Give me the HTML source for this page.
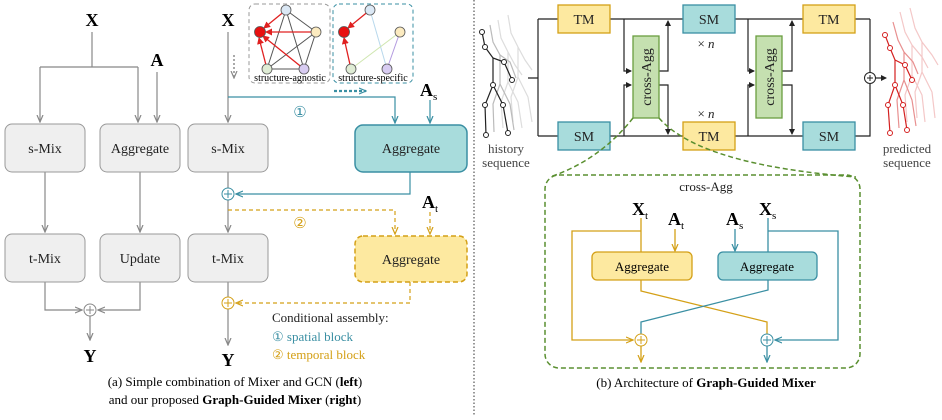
<!DOCTYPE html>
<html><head><meta charset="utf-8"><style>
body{margin:0;background:#fff}
text{font-family:"Liberation Serif",serif}
</style></head><body>
<svg width="942" height="415" viewBox="0 0 942 415" xmlns="http://www.w3.org/2000/svg">
<defs>
<marker id="ag" markerWidth="8" markerHeight="8" refX="7" refY="4" orient="auto" markerUnits="userSpaceOnUse"><path d="M0,1 L7,4 L0,7" fill="none" stroke="#888" stroke-width="1.2"/></marker>
<marker id="ab" markerWidth="8" markerHeight="8" refX="7" refY="4" orient="auto" markerUnits="userSpaceOnUse"><path d="M0,1 L7,4 L0,7" fill="none" stroke="#3a8fa3" stroke-width="1.2"/></marker>
<marker id="ao" markerWidth="8" markerHeight="8" refX="7" refY="4" orient="auto" markerUnits="userSpaceOnUse"><path d="M0,1 L7,4 L0,7" fill="none" stroke="#d4a017" stroke-width="1.2"/></marker>
<marker id="ak" markerWidth="6" markerHeight="6" refX="5" refY="3" orient="auto" markerUnits="userSpaceOnUse"><path d="M0,0 L6,3 L0,6z" fill="#222"/></marker>
<marker id="ar" markerWidth="7" markerHeight="7" refX="6" refY="3.5" orient="auto" markerUnits="userSpaceOnUse"><path d="M0,0 L7,3.5 L0,7z" fill="#e02020"/></marker>
</defs>

<!-- LEFT -->
<g stroke="#888" stroke-width="1.2" fill="none">
<path d="M92,32 V67 M40,67 H138 M40,67 V122" marker-end="url(#ag)"/>
<path d="M138,67 V122" marker-end="url(#ag)"/>
<path d="M157,72 V122" marker-end="url(#ag)"/>
<path d="M45,172 V232" marker-end="url(#ag)"/>
<path d="M140,172 V232" marker-end="url(#ag)"/>
<path d="M45,282 V310 H82" marker-end="url(#ag)"/>
<path d="M140,282 V310 H98" marker-end="url(#ag)"/>
<path d="M90,316 V340" marker-end="url(#ag)"/>
</g>
<g fill="#efefef" stroke="#999" stroke-width="1">
<rect x="5" y="124" width="80" height="48" rx="7"/>
<rect x="100" y="124" width="80" height="48" rx="7"/>
<rect x="5" y="234" width="80" height="48" rx="7"/>
<rect x="100" y="234" width="80" height="48" rx="7"/>
</g>
<g font-size="14" text-anchor="middle" fill="#222">
<text x="45" y="153">s-Mix</text><text x="140" y="153">Aggregate</text>
<text x="45" y="263">t-Mix</text><text x="140" y="263">Update</text>
</g>
<circle cx="90" cy="310" r="6" fill="#fff" stroke="#888"/><path d="M86,310 H94 M90,306 V314" stroke="#888"/>
<text x="92" y="26" font-size="18" font-weight="bold" text-anchor="middle">X</text>
<text x="157" y="66" font-size="18" font-weight="bold" text-anchor="middle">A</text>
<text x="90" y="362" font-size="18" font-weight="bold" text-anchor="middle">Y</text>

<!-- MIDDLE -->
<g stroke="#888" stroke-width="1.2" fill="none">
<path d="M228,32 V122" marker-end="url(#ag)"/>
<path d="M228,172 V188"/>
<path d="M228,200 V232" marker-end="url(#ag)"/>
<path d="M228,282 V297"/>
<path d="M228,309 V345" marker-end="url(#ag)"/>
<path d="M234,55 V78" stroke-dasharray="2,2" stroke-width="2" stroke="#aaa" marker-end="url(#ag)"/>
</g>
<g stroke="#3a8fa3" stroke-width="1.2" fill="none">
<path d="M228,97 H395 V123" marker-end="url(#ab)"/>
<path d="M430,100 V123" marker-end="url(#ab)"/>
<path d="M410,172 V194 H236" marker-end="url(#ab)"/>
<path d="M334,91 H366" stroke-dasharray="3,2" stroke-width="2.2" marker-end="url(#ab)"/>
</g>
<g stroke="#d4a017" stroke-width="1.2" fill="none" stroke-dasharray="4,3">
<path d="M228,210 H395 V234" marker-end="url(#ao)"/>
<path d="M430,212 V234" marker-end="url(#ao)"/>
<path d="M410,282 V303 H236" marker-end="url(#ao)"/>
</g>
<rect x="188" y="124" width="80" height="48" rx="7" fill="#efefef" stroke="#999"/>
<rect x="188" y="234" width="80" height="48" rx="7" fill="#efefef" stroke="#999"/>
<rect x="355" y="125" width="112" height="47" rx="8" fill="#a8dcdc" stroke="#3a8fa3" stroke-width="1.5"/>
<rect x="355" y="236" width="112" height="46" rx="8" fill="#fde9a0" stroke="#d4a017" stroke-width="1.5" stroke-dasharray="5,3"/>
<g font-size="14" text-anchor="middle" fill="#222">
<text x="228" y="153">s-Mix</text><text x="228" y="263">t-Mix</text>
<text x="411" y="153">Aggregate</text><text x="411" y="264">Aggregate</text>
</g>
<circle cx="228" cy="194" r="6" fill="#fff" stroke="#3a8fa3"/><path d="M224,194 H232 M228,190 V198" stroke="#3a8fa3"/>
<circle cx="228" cy="303" r="6" fill="#fff" stroke="#d4a017"/><path d="M224,303 H232 M228,299 V307" stroke="#d4a017"/>
<text x="228" y="26" font-size="18" font-weight="bold" text-anchor="middle">X</text>
<text x="228" y="366" font-size="18" font-weight="bold" text-anchor="middle">Y</text>
<text x="420" y="96" font-size="18" font-weight="bold">A<tspan font-size="11" font-weight="normal" dy="4">s</tspan></text>
<text x="422" y="208" font-size="18" font-weight="bold">A<tspan font-size="11" font-weight="normal" dy="4">t</tspan></text>
<text x="300" y="117" font-size="15" fill="#3a8fa3" text-anchor="middle">①</text>
<text x="300" y="228" font-size="15" fill="#d4a017" text-anchor="middle">②</text>
<text x="272" y="322" font-size="13" fill="#222">Conditional assembly:</text>
<text x="272" y="341" font-size="13" fill="#3a8fa3">① spatial block</text>
<text x="272" y="359" font-size="13" fill="#d4a017">② temporal block</text>

<!-- graphs -->
<rect x="249" y="4" width="81" height="79" rx="6" fill="none" stroke="#999" stroke-dasharray="4,3"/>
<rect x="333" y="4" width="80" height="79" rx="6" fill="none" stroke="#3a8fa3" stroke-dasharray="4,3"/>
<g stroke="#555" stroke-width="1">
<path d="M286,10 L267,69 M286,10 L304,69 M316,32 L267,69 M267,69 L304,69 M286,10 L316,32 M316,32 L304,69"/>
</g>
<g stroke="#e02020" stroke-width="1.3" marker-end="url(#ar)">
<path d="M286,10 L264,28"/><path d="M316,32 L266,32"/><path d="M304,69 L263,36"/><path d="M267,69 L259,38"/>
</g>
<g stroke-width="1"><path d="M370,10 L387,69" stroke="#b8d8ec"/><path d="M400,32 L351,69" stroke="#cfe6b0"/><path d="M400,32 L387,69" stroke="#b39ae0"/></g>
<g stroke="#e02020" stroke-width="1.3" marker-end="url(#ar)"><path d="M370,10 L348,28"/><path d="M351,69 L344,38"/></g>
<g stroke="#555" stroke-width="0.8">
<circle cx="286" cy="10" r="5" fill="#dbe8f5"/><circle cx="316" cy="32" r="5" fill="#fcebc0"/><circle cx="260" cy="32" r="5.5" fill="#e81010"/><circle cx="267" cy="69" r="5" fill="#dfecd5"/><circle cx="304" cy="69" r="5" fill="#d8ccf2"/>
<circle cx="370" cy="10" r="5" fill="#dbe8f5"/><circle cx="400" cy="32" r="5" fill="#fcebc0"/><circle cx="344" cy="32" r="5.5" fill="#e81010"/><circle cx="351" cy="69" r="5" fill="#dfecd5"/><circle cx="387" cy="69" r="5" fill="#d8ccf2"/>
</g>
<text x="290" y="81" font-size="10" text-anchor="middle">structure-agnostic</text>
<text x="373" y="81" font-size="10" text-anchor="middle">structure-specific</text>

<text x="235" y="386" font-size="13" text-anchor="middle">(a) Simple combination of Mixer and GCN (<tspan font-weight="bold">left</tspan>)</text>
<text x="235" y="404" font-size="13" text-anchor="middle">and our proposed <tspan font-weight="bold">Graph-Guided Mixer</tspan> (<tspan font-weight="bold">right</tspan>)</text>

<line x1="474" y1="0" x2="474" y2="415" stroke="#555" stroke-width="1.2" stroke-dasharray="1.5,2"/>

<!-- RIGHT TOP -->
<g stroke="#222" stroke-width="1.2" fill="none">
<path d="M528,78 H538 M538,19 V136 M538,19 H870 M538,136 H870 V84"/>
<path d="M870,19 V72"/>
<path d="M624,19 V71 H631" marker-end="url(#ak)"/><path d="M624,136 V85 H631" marker-end="url(#ak)"/>
<path d="M659,71 H668 V21" marker-end="url(#ak)"/><path d="M659,85 H668 V134" marker-end="url(#ak)"/>
<path d="M748,19 V71 H754" marker-end="url(#ak)"/><path d="M748,136 V85 H754" marker-end="url(#ak)"/>
<path d="M782,71 H792 V21" marker-end="url(#ak)"/><path d="M782,85 H792 V134" marker-end="url(#ak)"/>
<path d="M876,78 H886" marker-end="url(#ak)"/>
</g>
<circle cx="870" cy="78" r="5.5" fill="#fff" stroke="#222"/><path d="M867,78 H873 M870,75 V81" stroke="#222"/>
<g stroke-width="1.3">
<rect x="558" y="5" width="52" height="28" fill="#fde9a0" stroke="#d4a017"/>
<rect x="683" y="5" width="52" height="28" fill="#a8dcdc" stroke="#3a8fa3"/>
<rect x="803" y="5" width="52" height="28" fill="#fde9a0" stroke="#d4a017"/>
<rect x="558" y="122" width="52" height="28" fill="#a8dcdc" stroke="#3a8fa3"/>
<rect x="683" y="122" width="52" height="28" fill="#fde9a0" stroke="#d4a017"/>
<rect x="803" y="122" width="52" height="28" fill="#a8dcdc" stroke="#3a8fa3"/>
<rect x="633" y="36" width="26" height="82" fill="#c5e0b0" stroke="#6a9e40"/>
<rect x="756" y="36" width="26" height="82" fill="#c5e0b0" stroke="#6a9e40"/>
</g>
<g font-size="14" text-anchor="middle" fill="#222">
<text x="584" y="24">TM</text><text x="709" y="24">SM</text><text x="829" y="24">TM</text>
<text x="584" y="141">SM</text><text x="709" y="141">TM</text><text x="829" y="141">SM</text>
<text transform="translate(651,77) rotate(-90)" font-size="14" text-anchor="middle">cross-Agg</text>
<text transform="translate(774,77) rotate(-90)" font-size="14" text-anchor="middle">cross-Agg</text>
<text x="706" y="48" font-size="13">× <tspan font-style="italic">n</tspan></text>
<text x="706" y="118" font-size="13">× <tspan font-style="italic">n</tspan></text>
<text x="506" y="153" font-size="13" fill="#444">history</text><text x="506" y="167" font-size="13" fill="#444">sequence</text>
<text x="907" y="153" font-size="13" fill="#444">predicted</text><text x="907" y="167" font-size="13" fill="#444">sequence</text>
</g>
<!-- skeletons -->
<g fill="none" stroke-width="1.2">
<g stroke="#ddd"><path d="M498,20 L501,38 L508,52 L515,65 L522,75 M508,52 L508,82 L501,102 L503,128 M508,82 L518,102 L522,128"/><path d="M508,15 L511,33 L518,47 L525,60 L532,70 M518,47 L518,77 L511,97 L513,122 M518,77 L528,97 L532,122"/></g>
<g stroke="#bbb"><path d="M490,25 L493,42 L500,55 L510,62 L516,78 M500,55 L500,84 L493,104 L494,132 M500,84 L510,104 L514,130"/></g>
<g stroke="#222"><path d="M482,32 L485,47 L493,58 L504,62 L512,80 M493,58 L493,85 L485,105 L486,135 M493,85 L503,105 L508,133"/></g>
<g stroke="#f4c8c8"><path d="M900,12 L905,32 L912,45 L922,57 L928,68 M912,45 L912,75 L905,95 L907,122 M912,75 L922,95 L925,122"/><path d="M910,8 L915,28 L922,42 L932,55 L938,65 M922,42 L922,72 L915,92 L917,118 M922,72 L932,92 L935,118"/></g>
<g stroke="#e89090"><path d="M893,22 L898,40 L904,52 L913,62 L918,74 M904,52 L904,80 L897,100 L899,128 M904,80 L912,100 L916,126"/></g>
<g stroke="#d42020"><path d="M885,35 L890,48 L895,60 L905,65 L912,80 M895,60 L895,85 L888,105 L890,133 M895,85 L903,105 L907,130"/></g>
</g>
<g fill="#fff" stroke="#222" stroke-width="1"><circle cx="482" cy="32" r="2.5"/><circle cx="485" cy="47" r="2.5"/><circle cx="504" cy="62" r="2.5"/><circle cx="512" cy="80" r="2.5"/><circle cx="493" cy="85" r="2.5"/><circle cx="485" cy="105" r="2.5"/><circle cx="486" cy="135" r="2.5"/><circle cx="503" cy="105" r="2.5"/><circle cx="508" cy="133" r="2.5"/></g>
<g fill="#fff" stroke="#d42020" stroke-width="1"><circle cx="885" cy="35" r="2.5"/><circle cx="890" cy="48" r="2.5"/><circle cx="905" cy="65" r="2.5"/><circle cx="912" cy="80" r="2.5"/><circle cx="895" cy="85" r="2.5"/><circle cx="888" cy="105" r="2.5"/><circle cx="890" cy="133" r="2.5"/><circle cx="903" cy="105" r="2.5"/><circle cx="907" cy="130" r="2.5"/></g>

<!-- zoom lines + box -->
<g stroke="#5a8f30" stroke-width="1.5" fill="none" stroke-dasharray="5,3">
<path d="M633,118 Q600,160 550,177"/><path d="M659,118 Q700,165 856,177"/>
<rect x="545" y="175" width="315" height="193" rx="14"/>
</g>
<text x="706" y="191" font-size="13" text-anchor="middle" fill="#222">cross-Agg</text>
<g stroke="#d4a017" stroke-width="1.3" fill="none">
<path d="M641,218 V252 M641,231 H572 V340 H633" marker-end="url(#ao)"/>
<path d="M675,229 V251" marker-end="url(#ao)"/>
<path d="M641,280 V291 L767,322 V334"/>
<path d="M641,346 V362" marker-end="url(#ao)"/>
</g>
<g stroke="#3a8fa3" stroke-width="1.3" fill="none">
<path d="M768,218 V252 M768,231 H838 V340 H775" marker-end="url(#ab)"/>
<path d="M735,229 V251" marker-end="url(#ab)"/>
<path d="M768,280 V290 L641,322 V334"/>
<path d="M767,346 V362" marker-end="url(#ab)"/>
</g>
<rect x="592" y="252" width="100" height="28" rx="5" fill="#fde9a0" stroke="#d4a017" stroke-width="1.3"/>
<rect x="718" y="252" width="99" height="28" rx="5" fill="#a8dcdc" stroke="#3a8fa3" stroke-width="1.3"/>
<text x="642" y="271" font-size="13" text-anchor="middle">Aggregate</text>
<text x="767" y="271" font-size="13" text-anchor="middle">Aggregate</text>
<circle cx="641" cy="340" r="6" fill="#fff" stroke="#d4a017"/><path d="M637,340 H645 M641,336 V344" stroke="#d4a017"/>
<circle cx="767" cy="340" r="6" fill="#fff" stroke="#3a8fa3"/><path d="M763,340 H771 M767,336 V344" stroke="#3a8fa3"/>
<text x="632" y="215" font-size="18" font-weight="bold">X<tspan font-size="11" font-weight="normal" dy="4">t</tspan></text>
<text x="668" y="225" font-size="18" font-weight="bold">A<tspan font-size="11" font-weight="normal" dy="4">t</tspan></text>
<text x="726" y="225" font-size="18" font-weight="bold">A<tspan font-size="11" font-weight="normal" dy="4">s</tspan></text>
<text x="759" y="215" font-size="18" font-weight="bold">X<tspan font-size="11" font-weight="normal" dy="4">s</tspan></text>
<text x="706" y="387" font-size="13" text-anchor="middle">(b) Architecture of <tspan font-weight="bold">Graph-Guided Mixer</tspan></text>
</svg>
</body></html>
